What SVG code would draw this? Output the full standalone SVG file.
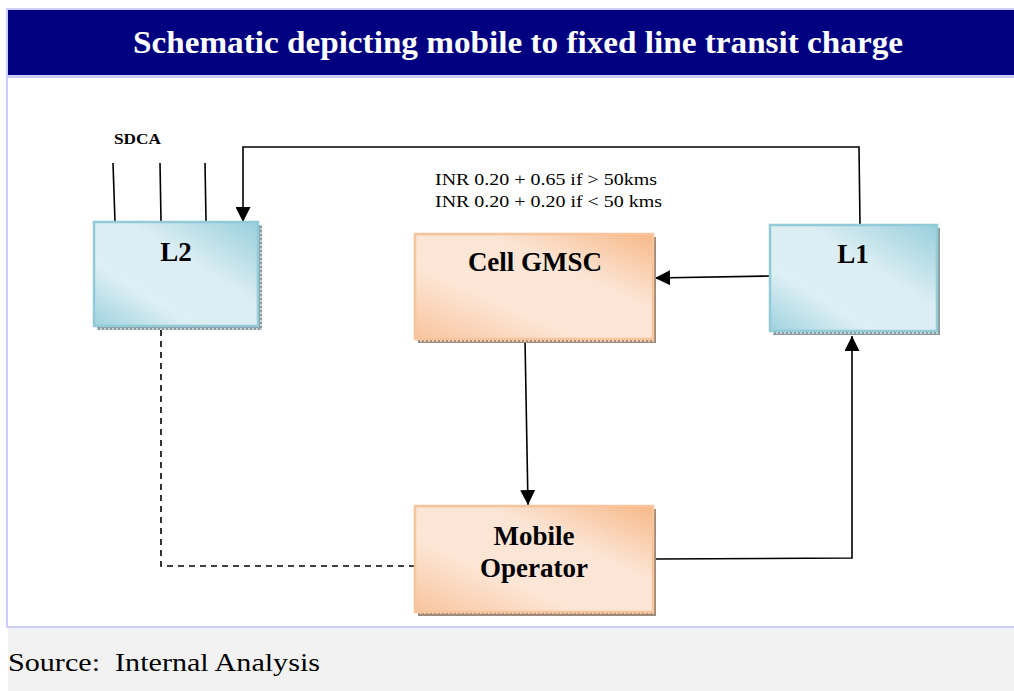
<svg xmlns="http://www.w3.org/2000/svg" width="1014" height="691" viewBox="0 0 1014 691">
<style>
text{font-family:'Liberation Serif','Times New Roman',Tinos,Times,serif}
.title{font-weight:bold;font-size:31px;fill:#fff}
.lbl{font-weight:bold;font-size:27px;fill:#000}
.note{font-size:17px;fill:#000}
.sdca{font-size:15px;font-weight:bold;fill:#000}
.src{font-size:26px;fill:#000}
.conn{fill:none;stroke:#000;stroke-width:1.6}
.blue{stroke:#92cad8;stroke-width:2.5}
.orange{stroke:#f8c49c;stroke-width:2.5}
</style>
<defs>
<linearGradient id="gBlue" x1="0" y1="1" x2="1" y2="0">
<stop offset="0" stop-color="#9ed2df"/>
<stop offset="0.3" stop-color="#ddeff4"/>
<stop offset="0.6" stop-color="#dceef3"/>
<stop offset="1" stop-color="#98cfdc"/>
</linearGradient>
<linearGradient id="gOrange" x1="0" y1="1" x2="1" y2="0">
<stop offset="0" stop-color="#f8c49e"/>
<stop offset="0.35" stop-color="#fde6d6"/>
<stop offset="0.65" stop-color="#fce5d5"/>
<stop offset="1" stop-color="#f7b888"/>
</linearGradient>
<pattern id="hatchB" width="4" height="4" patternUnits="userSpaceOnUse">
<rect width="4" height="4" fill="#8a9a9e"/>
<rect width="2" height="2" fill="#c8d4d8"/>
</pattern>
<pattern id="hatchO" width="4" height="4" patternUnits="userSpaceOnUse">
<rect width="4" height="4" fill="#a08a7a"/>
<rect width="2" height="2" fill="#e2c8b4"/>
</pattern>
<marker id="arr" viewBox="0 0 10 10" refX="10" refY="5" markerWidth="15" markerHeight="15" markerUnits="userSpaceOnUse" orient="auto">
<path d="M0,0 L10,5 L0,10 z" fill="#000"/>
</marker>
</defs>
<rect width="1014" height="691" fill="#fff"/>
<g id="frame">
<rect x="6" y="8" width="1008" height="70" fill="#ccccff"/>
<rect x="8" y="10" width="1006" height="65" fill="#000080"/>
<rect x="6" y="8" width="2" height="620" fill="#ccccff"/>
<rect x="6" y="626" width="1008" height="2" fill="#ccccff"/>
<rect x="8" y="628" width="1006" height="63" fill="#f2f2f2"/>
<text class="title" x="518" y="53" text-anchor="middle" textLength="770" lengthAdjust="spacingAndGlyphs">Schematic depicting mobile to fixed line transit charge</text>
<text class="src" x="8" y="671" textLength="312" lengthAdjust="spacingAndGlyphs">Source:&#160; Internal Analysis</text>
</g>
<g id="connectors">
<line class="conn" x1="113" y1="163" x2="115" y2="222"/>
<line class="conn" x1="160" y1="163" x2="161" y2="221"/>
<line class="conn" x1="205" y1="163" x2="206" y2="221"/>
<polyline class="conn" points="860,225 859,147 243,147 243,222" marker-end="url(#arr)"/>
<line class="conn" x1="770" y1="276" x2="655" y2="278" marker-end="url(#arr)"/>
<line class="conn" x1="525" y1="340" x2="528" y2="505" marker-end="url(#arr)"/>
<polyline class="conn" points="656,559 852,558 852,336" marker-end="url(#arr)"/>
<polyline class="conn" points="161,330 161,566 415,566" stroke-dasharray="6,5"/>
<text class="sdca" x="114" y="144" textLength="47" lengthAdjust="spacingAndGlyphs">SDCA</text>
<text class="note" x="435" y="185" textLength="222" lengthAdjust="spacingAndGlyphs">INR 0.20 + 0.65 if &gt; 50kms</text>
<text class="note" x="435" y="207" textLength="227" lengthAdjust="spacingAndGlyphs">INR 0.20 + 0.20 if &lt; 50 kms</text>
</g>
<g id="L2">
<rect x="97" y="225" width="165" height="105" fill="url(#hatchB)"/>
<rect x="94" y="222" width="164" height="104" fill="url(#gBlue)" class="blue"/>
<text class="lbl" x="176" y="261" text-anchor="middle">L2</text>
</g>
<g id="CellGMSC">
<rect x="418" y="237" width="238" height="106" fill="url(#hatchO)"/>
<rect x="415" y="234" width="238" height="105" fill="url(#gOrange)" class="orange"/>
<text class="lbl" x="535" y="271" text-anchor="middle">Cell GMSC</text>
</g>
<g id="L1">
<rect x="773" y="228" width="167" height="107" fill="url(#hatchB)"/>
<rect x="770" y="225" width="167" height="106" fill="url(#gBlue)" class="blue"/>
<text class="lbl" x="853" y="263" text-anchor="middle">L1</text>
</g>
<g id="MobileOperator">
<rect x="418" y="509" width="238" height="107" fill="url(#hatchO)"/>
<rect x="415" y="506" width="238" height="106" fill="url(#gOrange)" class="orange"/>
<text class="lbl" x="534" y="545" text-anchor="middle">Mobile</text>
<text class="lbl" x="534" y="577" text-anchor="middle">Operator</text>
</g>
</svg>
